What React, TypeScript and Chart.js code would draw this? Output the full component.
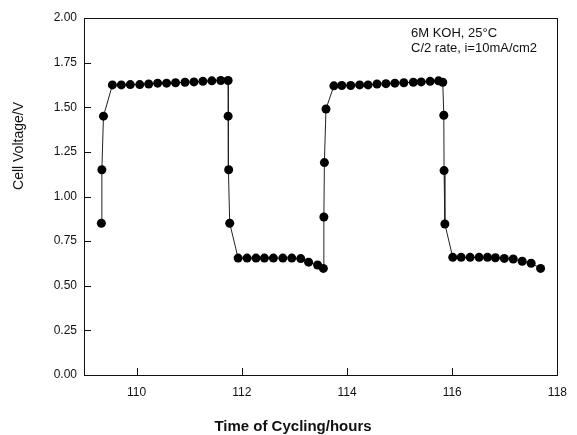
import React, { useEffect, useRef } from "react";
import { Chart, registerables } from "chart.js";

Chart.register(...registerables);

// ---- data (hours, volts) ----
const charge1Time = [109.33, 109.34, 109.37];
const charge1Volt = [0.85, 1.15, 1.45];
const plateau1Time = [109.54, 109.71, 109.88, 110.06, 110.23, 110.40, 110.57, 110.74, 110.92, 111.09, 111.26, 111.43, 111.60, 111.74];
const plateau1Volt = [1.625, 1.625, 1.627, 1.627, 1.630, 1.635, 1.635, 1.637, 1.640, 1.642, 1.645, 1.648, 1.650, 1.650];
const discharge1Time = [111.74, 111.75, 111.77];
const discharge1Volt = [1.45, 1.15, 0.85];
const low1Time = [111.93, 112.10, 112.27, 112.43, 112.60, 112.78, 112.95, 113.12, 113.27, 113.44, 113.55];
const low1Volt = [0.655, 0.655, 0.655, 0.655, 0.655, 0.655, 0.655, 0.652, 0.632, 0.616, 0.597];
const charge2Time = [113.56, 113.57, 113.60];
const charge2Volt = [0.885, 1.19, 1.49];
const plateau2Time = [113.75, 113.90, 114.07, 114.24, 114.40, 114.57, 114.74, 114.91, 115.08, 115.26, 115.41, 115.58, 115.74, 115.82];
const plateau2Volt = [1.620, 1.622, 1.622, 1.625, 1.625, 1.630, 1.632, 1.635, 1.637, 1.640, 1.642, 1.645, 1.648, 1.640];
const discharge2Time = [115.84, 115.845, 115.86];
const discharge2Volt = [1.455, 1.145, 0.846];
const low2Time = [116.01, 116.17, 116.34, 116.51, 116.67, 116.82, 116.99, 117.16, 117.33, 117.50, 117.68];
const low2Volt = [0.659, 0.659, 0.659, 0.659, 0.659, 0.657, 0.653, 0.650, 0.637, 0.626, 0.597];

const xTickValues = [110, 112, 114, 116, 118];
const yTickValues = [0, 0.25, 0.5, 0.75, 1.0, 1.25, 1.5, 1.75, 2.0];
const xTitle = "Time of Cycling/hours";
const yTitle = "Cell Voltage/V";
const noteLines = ["6M KOH, 25°C", "C/2 rate, i=10mA/cm2"];

const allTime = [
  ...charge1Time, ...plateau1Time, ...discharge1Time, ...low1Time,
  ...charge2Time, ...plateau2Time, ...discharge2Time, ...low2Time,
];
const allVolt = [
  ...charge1Volt, ...plateau1Volt, ...discharge1Volt, ...low1Volt,
  ...charge2Volt, ...plateau2Volt, ...discharge2Volt, ...low2Volt,
];

const FONT = '"Liberation Sans", Arial, Helvetica, sans-serif';

const decorPlugin = {
  id: "decor",
  afterDraw(chart: any) {
    const { ctx, chartArea } = chart;
    const { left, right, top, bottom } = chartArea;
    const xs = chart.scales.x;
    const ys = chart.scales.y;
    ctx.save();
    ctx.strokeStyle = "#111";
    ctx.lineWidth = 1;
    ctx.strokeRect(Math.round(left) + 0.5, Math.round(top) + 0.5, Math.round(right - left), Math.round(bottom - top));
    ctx.beginPath();
    xTickValues.forEach((v) => {
      const px = Math.round(xs.getPixelForValue(v)) + 0.5;
      ctx.moveTo(px, bottom);
      ctx.lineTo(px, bottom - 7);
    });
    yTickValues.forEach((v) => {
      const py = Math.round(ys.getPixelForValue(v)) + 0.5;
      ctx.moveTo(left, py);
      ctx.lineTo(left + 7, py);
    });
    ctx.stroke();

    ctx.fillStyle = "#111";
    // axis titles
    ctx.font = `bold 15px ${FONT}`;
    ctx.textAlign = "center";
    ctx.textBaseline = "middle";
    ctx.fillText(xTitle, 293, 427);
    ctx.save();
    ctx.translate(19, 146);
    ctx.rotate(-Math.PI / 2);
    ctx.font = `14px ${FONT}`;
    ctx.fillText(yTitle, 0, 0);
    ctx.restore();
    // note
    ctx.font = `13px ${FONT}`;
    ctx.textAlign = "left";
    noteLines.forEach((t, i) => ctx.fillText(t, 411, 33 + i * 15));
    ctx.restore();
  },
};

export default function App() {
  const ref = useRef<HTMLCanvasElement>(null);
  useEffect(() => {
    document.body.style.margin = "0";
    const canvas = ref.current!;
    const chart = new Chart(canvas, {
      type: "line",
      data: {
        datasets: [
          {
            data: allTime.map((t, i) => ({ x: t, y: allVolt[i] })),
            borderColor: "#222",
            borderWidth: 1,
            backgroundColor: "#000",
            pointBackgroundColor: "#000",
            pointBorderColor: "#000",
            pointRadius: 4.5,
            pointBorderWidth: 0,
            tension: 0,
          },
        ],
      },
      options: {
        responsive: false,
        animation: false,
        layout: { padding: { top: 18, right: 11, left: 0, bottom: 0 } },
        plugins: { legend: { display: false }, tooltip: { enabled: false }, title: { display: false } },
        scales: {
          x: {
            type: "linear",
            min: 109,
            max: 118,
            grid: { display: false, drawTicks: false },
            border: { display: false },
            afterBuildTicks: (s: any) => { s.ticks = xTickValues.map((v) => ({ value: v })); },
            afterFit: (s: any) => { s.height = 60; },
            ticks: { font: { family: FONT, size: 12 }, color: "#111", padding: 10, maxRotation: 0, callback: (v: any) => String(v) },
          },
          y: {
            type: "linear",
            min: 0,
            max: 2,
            grid: { display: false, drawTicks: false },
            border: { display: false },
            afterBuildTicks: (s: any) => { s.ticks = yTickValues.map((v) => ({ value: v })); },
            afterFit: (s: any) => { s.width = 84; },
            ticks: { font: { family: FONT, size: 12 }, color: "#111", padding: 7, callback: (v: any) => Number(v).toFixed(2) },
          },
        },
      },
      plugins: [decorPlugin],
    });
    return () => chart.destroy();
  }, []);
  return <canvas ref={ref} width={577} height={435} style={{ display: "block" }} />;
}
